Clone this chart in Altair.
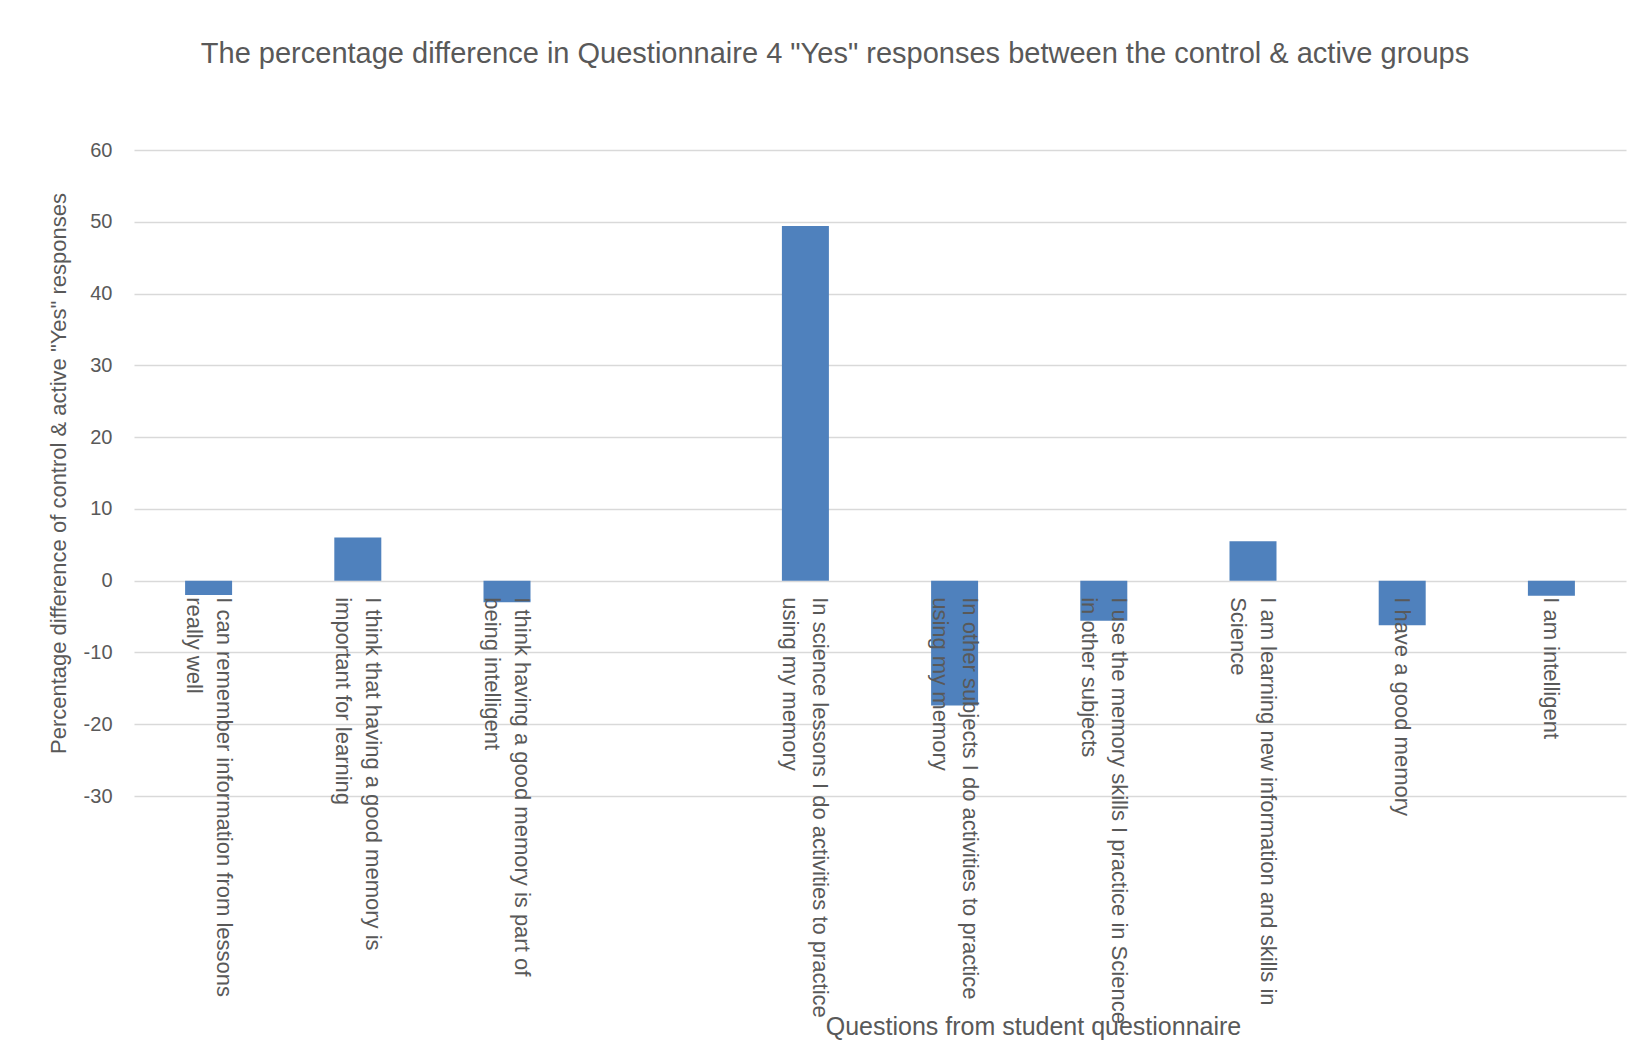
import altair as alt
import pandas as pd

# Questionnaire statements ("|" marks the line break in each axis label);
# the blank entry keeps the empty slot between the two groups of questions.
questions = [
    "I can remember information from lessons|really well",
    "I think that having a good memory is|important for learning",
    "I think having a good memory is part of|being intelligent",
    "",
    "In science lessons I do activities to practice|using my memory",
    "In other subjects I  do activities to practice|using my memory",
    "I use the memory skills I practice in Science|in other subjects",
    "I am learning new information and skills in|Science",
    "I have a good memory",
    "I am intelligent",
]

# Percentage difference (control vs active) in "Yes" responses
differences = [-2.0, 6.0, -3.0, None, 49.4, -17.4, -5.6, 5.5, -6.2, -2.1]

y_ticks = [-30, -20, -10, 0, 10, 20, 30, 40, 50, 60]

df = pd.DataFrame({"question": questions, "difference": differences})

FONT = "Liberation Sans"
TEXT = "#595959"
GRID = "#d9d9d9"

PLOT_W = 1492
PLOT_H = 646
LINE_H = 30
# distance from the bottom of the plot to the zero line, where the category axis sits
zero_from_bottom = PLOT_H * (0 - (-30)) / (60 - (-30))

chart = (
    alt.Chart(df)
    .mark_bar(color="#4f81bd")
    .encode(
        x=alt.X(
            "question:N",
            sort=None,
            scale=alt.Scale(domain=questions, paddingInner=0.685, paddingOuter=0.3425),
            axis=alt.Axis(
                title="Questions from student questionnaire",
                labelExpr="split(datum.label, '|')",
                labelAngle=90,
                labelAlign="left",
                labelBaseline="middle",
                labelFontSize=22,
                labelLineHeight=LINE_H,
                # two-line labels are centred on their bar as a block
                labelOffset=alt.condition(
                    "indexof(datum.value, '|') >= 0",
                    alt.value(LINE_H / 2),
                    alt.value(0),
                ),
                labelColor=TEXT,
                labelFont=FONT,
                labelPadding=16,
                labelLimit=0,
                labelOverlap=False,
                ticks=False,
                domain=False,
                offset=-zero_from_bottom,
                zindex=1,
                titleFont=FONT,
                titleFontSize=25,
                titleFontWeight="normal",
                titleColor=TEXT,
                titleX=899,
                titleY=446,
                titleAlign="center",
                titleBaseline="middle",
            ),
        ),
        y=alt.Y(
            "difference:Q",
            scale=alt.Scale(domain=[-30, 60], nice=False, zero=False),
            axis=alt.Axis(
                title='Percentage difference of control & active "Yes" responses',
                values=y_ticks,
                labelExpr="'' + datum.value",
                labelFontSize=20,
                labelColor=TEXT,
                labelFont=FONT,
                labelPadding=22,
                ticks=False,
                domain=False,
                grid=True,
                gridColor=GRID,
                gridWidth=1.5,
                titleFont=FONT,
                titleFontSize=22,
                titleFontWeight="normal",
                titleColor=TEXT,
                titleX=-76,
                titleY=PLOT_H / 2,
                titleAngle=-90,
                titleAlign="center",
                titleBaseline="middle",
            ),
        ),
    )
    .properties(
        width=PLOT_W,
        height=PLOT_H,
        title=alt.TitleParams(
            'The percentage difference in Questionnaire 4 "Yes" responses between the control & active groups',
            font=FONT,
            fontSize=29,
            fontWeight="normal",
            color=TEXT,
            anchor="middle",
            dx=-45,
            offset=71,
        ),
        autosize=alt.AutoSizeParams(type="none"),
        padding={"left": 134, "top": 150, "right": 15, "bottom": 266},
    )
    .configure(background="white", view=alt.ViewConfig(stroke="transparent", strokeWidth=0))
)

chart.save("out.html", embed_options={"renderer": "svg", "actions": False})
